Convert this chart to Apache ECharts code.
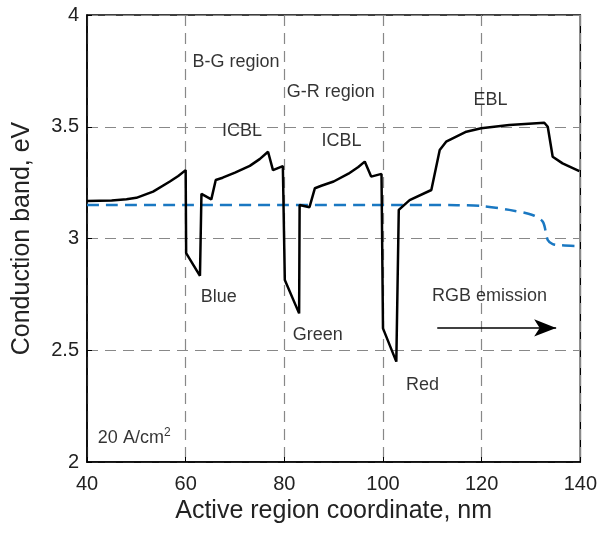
<!DOCTYPE html>
<html>
<head>
<meta charset="utf-8">
<script src="https://cdn.jsdelivr.net/npm/echarts@6/dist/echarts.min.js"></script>
<style>
  html, body { margin: 0; padding: 0; background: #fff; }
  #main { width: 600px; height: 533px; }
</style>
</head>
<body>
<div id="main"></div>
<script>
// conduction band profile (solid black)
var bandX = [40, 45, 48, 50, 53.4, 56.8, 58.5, 60, 60.1, 62.9, 63.2, 65.2, 66.1, 67.5,
  70, 73, 75, 76.7, 77.7, 79.7, 80.1, 83.0, 83.1, 85.1, 86.2, 87.5,
  90, 93, 95, 96.3, 97.6, 99.7, 100.0, 102.7, 103.2, 105.4, 109.8, 110.1,
  111.5, 112.8, 116.9, 119.9, 125.6, 132.7, 133.4, 134.4, 136.4, 139.8];
var bandY = [3.168, 3.170, 3.176, 3.182, 3.21, 3.255, 3.28, 3.306, 2.935, 2.833, 3.20, 3.175, 3.262, 3.272,
  3.295, 3.325, 3.355, 3.388, 3.306, 3.324, 2.814, 2.665, 3.15, 3.14, 3.225, 3.236,
  3.255, 3.29, 3.32, 3.344, 3.277, 3.289, 2.598, 2.449, 3.128, 3.172, 3.217, 3.217,
  3.396, 3.433, 3.478, 3.493, 3.508, 3.518, 3.50, 3.366, 3.336, 3.301];

// quasi-Fermi level (dashed blue)
var fermiX = [40, 60, 80, 103.4, 115, 120.2, 125.6, 130.3, 132.4, 133.4, 134.4, 136, 140];
var fermiY = [3.150, 3.150, 3.150, 3.150, 3.149, 3.145, 3.128, 3.105, 3.075, 2.993, 2.975, 2.970, 2.966];

var xTicks = [40, 60, 80, 100, 120, 140];
var yTicks = [2, 2.5, 3, 3.5, 4];

// annotations
var noteText = ['B-G region', 'G-R region', 'ICBL', 'ICBL', 'EBL', 'Blue', 'Green', 'Red', 'RGB emission', '20 A/cm{sup|2}'];
var noteX = [70.2, 89.4, 71.4, 91.6, 121.8, 66.7, 86.8, 108, 121.6, 42.2];
var noteY = [3.79, 3.655, 3.481, 3.434, 3.62, 2.74, 2.568, 2.345, 2.743, 2.107];
var arrowFrom = [111, 2.6];
var arrowTo = [135.1, 2.6];

function pairs(xs, ys) {
  return xs.map(function (x, i) { return [x, ys[i]]; });
}

var chart = echarts.init(document.getElementById('main'));
var gridLine = { show: true, lineStyle: { color: '#888', type: [11, 7], width: 1.2 } };
var font = 'Liberation Sans, Arial, sans-serif';

var option = {
  backgroundColor: '#fff',
  animation: false,
  grid: {
    left: 87, right: 19, top: 15, bottom: 71,
    show: true, borderColor: '#000', borderWidth: 1.5
  },
  xAxis: {
    type: 'value',
    min: xTicks[0], max: xTicks[xTicks.length - 1], interval: 20,
    name: 'Active region coordinate, nm',
    nameLocation: 'middle', nameGap: 36,
    nameTextStyle: { fontSize: 25, color: '#222', fontFamily: font },
    axisLine: { show: true, lineStyle: { color: '#000', width: 1.5 } },
    axisTick: { show: true, inside: true, length: 5, lineStyle: { color: '#000' } },
    axisLabel: { fontSize: 20, color: '#222', margin: 12, fontFamily: font },
    splitLine: gridLine
  },
  yAxis: {
    type: 'value',
    min: yTicks[0], max: yTicks[yTicks.length - 1], interval: 0.5,
    name: 'Conduction band, eV',
    nameLocation: 'middle', nameGap: 52,
    nameTextStyle: { fontSize: 25, color: '#222', fontFamily: font },
    axisLine: { show: true, lineStyle: { color: '#000', width: 1.5 } },
    axisTick: { show: true, inside: true, length: 5, lineStyle: { color: '#000' } },
    axisLabel: { fontSize: 20, color: '#222', margin: 8, fontFamily: font },
    splitLine: gridLine
  },
  series: [
    {
      name: 'band',
      type: 'line',
      data: pairs(bandX, bandY),
      showSymbol: false,
      lineStyle: { color: '#000', width: 2.5 },
      z: 3
    },
    {
      name: 'fermi',
      type: 'line',
      data: pairs(fermiX, fermiY),
      showSymbol: false,
      smooth: 0.3,
      lineStyle: { color: '#1a78c2', width: 2.5, type: [12, 7] },
      z: 2
    },
    {
      name: 'notes',
      type: 'scatter',
      symbolSize: 0,
      data: noteText.map(function (t, i) {
        return {
          value: [noteX[i], noteY[i]],
          label: {
            formatter: t,
            align: i === noteText.length - 1 ? 'left' : 'center'
          }
        };
      }),
      label: {
        show: true,
        position: 'inside',
        fontSize: 18,
        color: '#000',
        fontFamily: font,
        rich: { sup: { fontSize: 12, verticalAlign: 'top', padding: [0, 0, 10, 0], color: '#000' } }
      },
      markLine: {
        silent: true,
        symbol: ['none', 'arrow'],
        symbolSize: [13, 22],
        label: { show: false },
        lineStyle: { color: '#000', width: 1.6, type: 'solid' },
        data: [[{ coord: arrowFrom }, { coord: arrowTo }]]
      },
      z: 4
    }
  ]
};

chart.setOption(option);
</script>
</body>
</html>
